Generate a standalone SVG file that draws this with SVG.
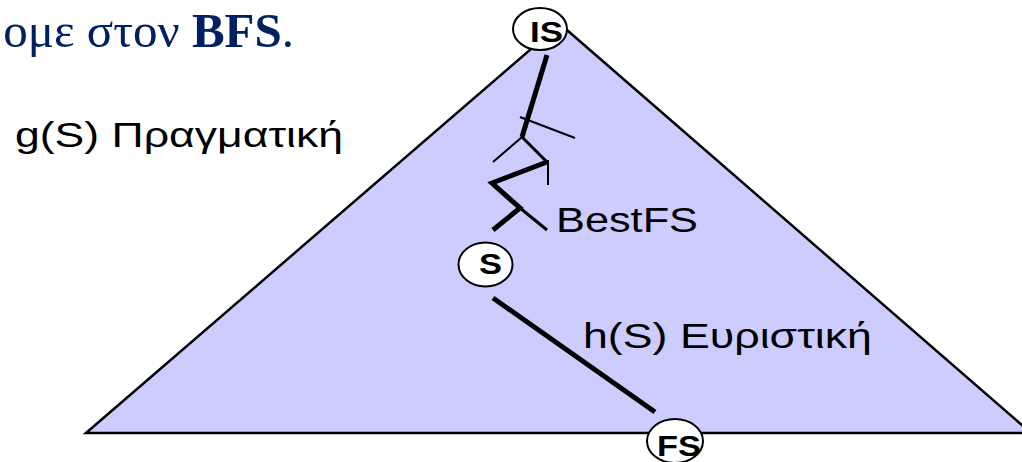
<svg xmlns="http://www.w3.org/2000/svg" width="1022" height="462" viewBox="0 0 1022 462">
<style>
.title{font-family:"Liberation Serif","DejaVu Serif",serif;font-size:49px;fill:#002060}
.lbl{font-family:"Liberation Sans",Arial,sans-serif;font-size:35px;fill:#000}
.nlbl{font-family:"Liberation Sans",Arial,sans-serif;font-size:29px;font-weight:bold;fill:#000}
.node{fill:#fff;stroke:#000;stroke-width:2}
.thick{stroke:#000;stroke-width:5;fill:none;stroke-linecap:butt;stroke-linejoin:miter}
.med{stroke:#000;stroke-width:3;fill:none}
.thin{stroke:#000;stroke-width:2;fill:none}
</style>
<rect width="1022" height="462" fill="#fff"/>
<text class="title" x="294" y="47" text-anchor="end">ομε στον <tspan font-weight="bold">BFS</tspan>.</text>
<g id="tree">
<polygon points="86,433 560,24 1031,433" fill="#CCCCFF" stroke="#000" stroke-width="2.5" stroke-linejoin="miter"/>
</g>
<g id="connectors">
<polyline class="thick" points="547,55 522,137"/>
<polyline class="med" points="522,137 547,162"/>
<polyline class="thick" points="547,162 492,183 520,208 493,230"/>
<line class="thin" x1="520" y1="117" x2="575" y2="138"/>
<line class="thin" x1="522" y1="137" x2="493" y2="162"/>
<line class="thin" x1="548" y1="160" x2="548" y2="185"/>
<line class="med" x1="520" y1="208" x2="547" y2="230"/>
<line class="thick" x1="493" y1="298" x2="655" y2="412"/>
</g>
<g id="label-g">
<text class="lbl" x="15" y="147" textLength="328" lengthAdjust="spacingAndGlyphs">g(S) Πραγματική</text>
</g>
<g id="label-bestfs">
<text class="lbl" x="556" y="232" textLength="142" lengthAdjust="spacingAndGlyphs">BestFS</text>
</g>
<g id="label-h">
<text class="lbl" x="583" y="348" textLength="289" lengthAdjust="spacingAndGlyphs">h(S) Ευριστική</text>
</g>
<g id="node-IS">
<ellipse class="node" cx="540" cy="29" rx="27" ry="21"/>
<text class="nlbl" x="530" y="42" textLength="33" lengthAdjust="spacingAndGlyphs">IS</text>
</g>
<g id="node-S">
<ellipse class="node" cx="485.5" cy="264.5" rx="27" ry="22"/>
<text class="nlbl" x="479" y="274" textLength="23" lengthAdjust="spacingAndGlyphs">S</text>
</g>
<g id="node-FS">
<ellipse class="node" cx="675" cy="441" rx="28" ry="22"/>
<text class="nlbl" x="657" y="456" textLength="44" lengthAdjust="spacingAndGlyphs">FS</text>
</g>
</svg>
